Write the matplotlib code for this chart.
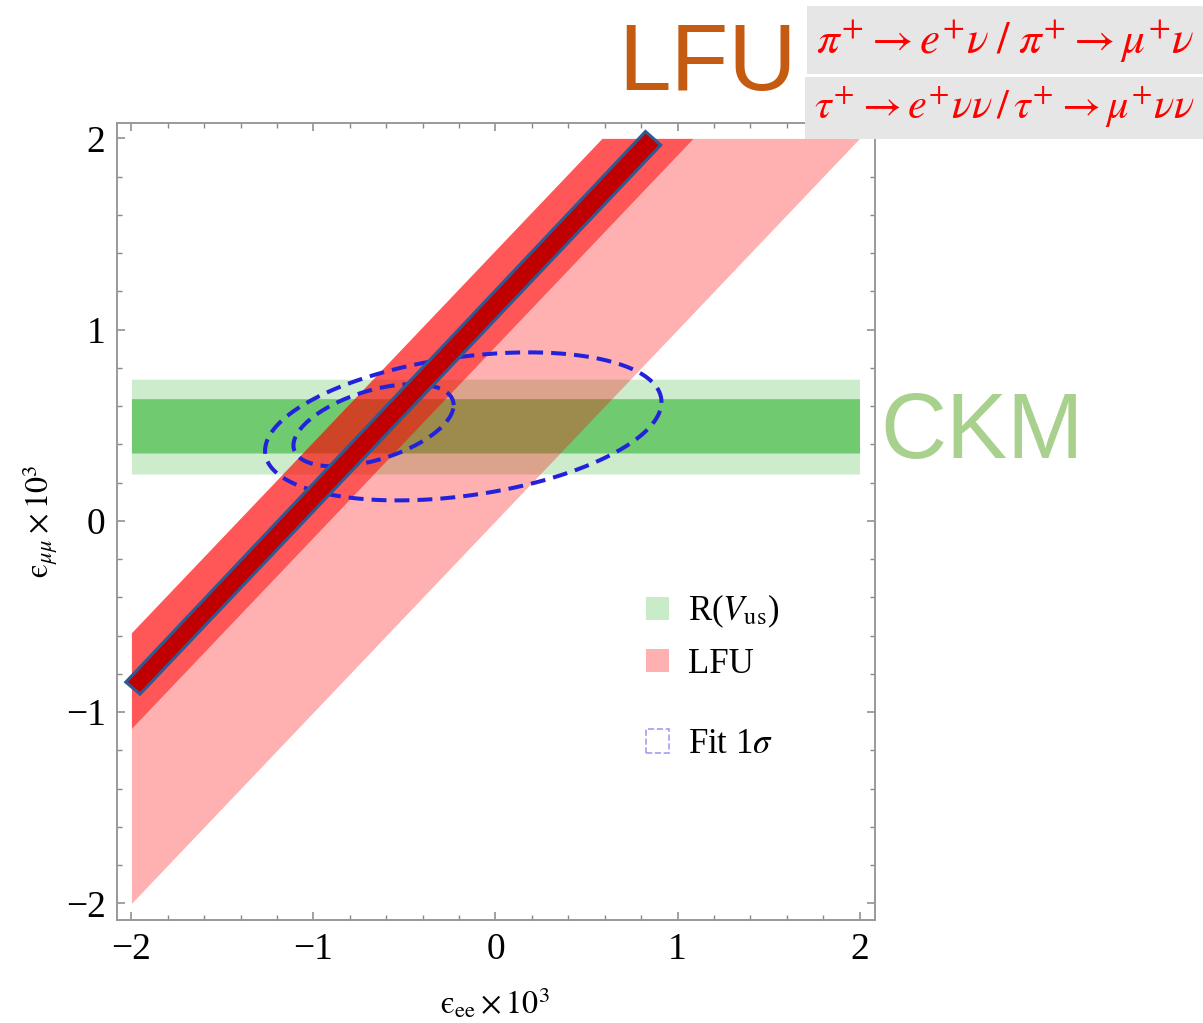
import numpy as np
import matplotlib.pyplot as plt
from matplotlib.patches import Patch, Polygon, Rectangle
from matplotlib.ticker import MultipleLocator

plt.rcParams['font.family'] = ['Liberation Serif', 'DejaVu Serif']
plt.rcParams['mathtext.fontset'] = 'stix'

# CKM band: R(V_us) constraint on eps_mumu (light = wide, dark = inner)
ckm_bands = [(0.245, 0.741), (0.355, 0.639)]
ckm_alpha = [0.2, 0.45]
# LFU bands: constraints on eps_mumu - eps_ee
lfu_bands = [(0.0, 1.415), (0.915, 1.415)]
lfu_alpha = [0.31, 0.5]

# fit ellipses: centre, half-width in x, half-height in y, correlation
fit_centres = [(-0.177, 0.494), (-0.67, 0.50)]
fit_halfwidth = [1.089, 0.44]
fit_halfheight = [0.387, 0.215]
fit_corr = [0.33, 0.49]

# highlighted narrow band (drawn on top as a bar)
bar_corners = [(0.824, 2.036), (0.908, 1.965), (-1.953, -0.906), (-2.031, -0.843)]

fig = plt.figure(figsize=(12.03, 10.23), dpi=100)
ax = fig.add_axes([116.7/1203, 1-920/1023, (875-116.7)/1203, (920-122.7)/1023])

xs = np.linspace(-2, 2, 801)
for (lo, hi), a in zip(ckm_bands, ckm_alpha):
    ax.fill_between(xs, lo, hi, color=(0, 0.63, 0), alpha=a, lw=0)

for (lo, hi), a in zip(lfu_bands, lfu_alpha):
    y1 = np.clip(xs + lo, -2, 2)
    y2 = np.clip(xs + hi, -2, 2)
    ax.fill_between(xs, y1, y2, color=(1, 0, 0), alpha=a, lw=0)

t = np.linspace(0, 2*np.pi, 500)
for (cx, cy), a, b, r in zip(fit_centres, fit_halfwidth, fit_halfheight, fit_corr):
    d = np.arccos(r)
    ax.plot(cx + a*np.cos(t), cy + b*np.cos(t - d), color='#2222dd',
            lw=2.9, dashes=(3.7, 2.0))

ax.add_patch(Polygon(bar_corners, closed=True, fc='#c00000', ec='#2e5a94',
                     lw=2.2, zorder=5))

ax.set_xlim(-2.081, 2.085)
ax.set_ylim(-2.087, 2.082)
ax.set_xticks([-2, -1, 0, 1, 2])
ax.set_yticks([-2, -1, 0, 1, 2])
ax.xaxis.set_minor_locator(MultipleLocator(0.2))
ax.yaxis.set_minor_locator(MultipleLocator(0.2))
ax.tick_params(which='both', direction='in', top=True, right=True,
               color='#888888', labelsize=27, labelcolor='black')
ax.tick_params(which='major', length=5.5, width=1.1)
ax.tick_params(which='minor', length=3.5, width=1.0)
ax.tick_params(axis='x', pad=9)
ax.tick_params(axis='y', pad=8)
for s in ax.spines.values():
    s.set_color('#999999')
    s.set_linewidth(1.4)

ax.set_xlabel(r'$\mathrm{ϵ}_{\mathrm{ee}}\times10^{3}$', fontsize=23)
ax.set_ylabel(r'$\mathrm{ϵ}_{\mu\mu}\times10^{3}$', fontsize=23)
ax.xaxis.set_label_coords(0.499, -0.083)
ax.yaxis.set_label_coords(-0.075, 0.5)

leg1 = ax.legend([Patch(fc='#c8ebc8'), Patch(fc='#ffb0b0')],
                 [r'R($V_{\mathrm{us}}$)', 'LFU'], loc='upper left',
                 bbox_to_anchor=(646/1203, 1-593/1023), bbox_transform=fig.transFigure,
                 frameon=False, fontsize=25, handlelength=0.66, handleheight=0.66,
                 handletextpad=0.55, labelspacing=0.5, borderpad=0, borderaxespad=0)
ax.add_artist(leg1)
ax.legend([Patch(fc='none', ec='#a0a0f0', ls='--', lw=1.2)], [r'Fit 1$\sigma$'],
          loc='upper left', bbox_to_anchor=(646/1203, 1-728/1023),
          bbox_transform=fig.transFigure, frameon=False, fontsize=25,
          handlelength=0.66, handleheight=0.66, handletextpad=0.55,
          borderpad=0, borderaxespad=0)

# annotations
fig.text(618/1203, 1-90/1023, 'LFU', fontsize=68, color='#c55a11',
         family='Liberation Sans', va='baseline')
fig.text(880/1203, 1-458/1023, 'CKM', fontsize=66, color='#a9d18e',
         family='Liberation Sans', va='baseline')
fig.add_artist(Rectangle((807/1203, 1-74/1023), 396/1203, 68/1023,
                         transform=fig.transFigure, fc='#e6e6e6', ec='none'))
fig.add_artist(Rectangle((805/1203, 1-139/1023), 398/1203, 62/1023,
                         transform=fig.transFigure, fc='#e6e6e6', ec='none'))
fig.text(1005/1203, 1-42/1023, r'$\pi^{+}\rightarrow e^{+}\nu\;/\;\pi^{+}\rightarrow\mu^{+}\nu$',
         fontsize=32.5, color='red', ha='center', va='center')
fig.text(1004/1203, 1-108/1023, r'$\tau^{+}\rightarrow e^{+}\nu\nu\,/\,\tau^{+}\rightarrow\mu^{+}\nu\nu$',
         fontsize=30.5, color='red', ha='center', va='center')

fig.savefig('out.png', dpi=100)
